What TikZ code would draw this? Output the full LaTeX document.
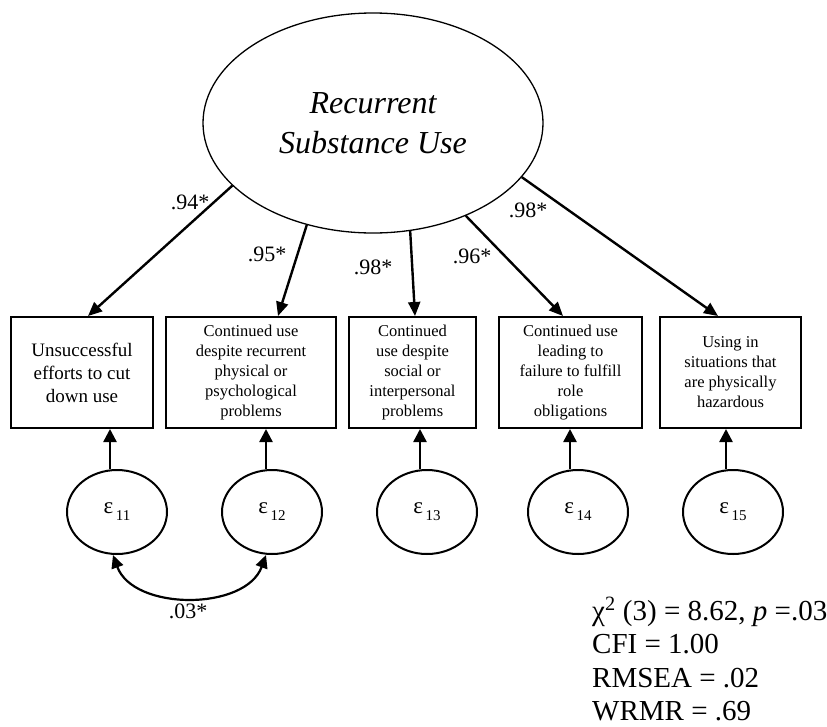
\documentclass[tikz,border=0pt]{standalone}
\usepackage{fontspec}
\setmainfont{Liberation Serif}
\usetikzlibrary{arrows.meta,shapes.geometric}

\begin{document}
\begin{tikzpicture}[x=1pt, y=1pt,
	factor/.style={ellipse, draw, line width=1.3pt, minimum width=340pt, minimum height=220pt,
		inner sep=0pt, align=center, font=\fontsize{32}{40}\selectfont\itshape},
	item/.style={rectangle, draw, line width=2pt, minimum height=111pt, inner sep=2pt,
		align=center, font=\fontsize{16.5}{20}\selectfont},
	err/.style={ellipse, draw, line width=2pt, minimum width=100pt, minimum height=84pt, inner sep=0pt},
	load/.style={line width=2.4pt, -{Triangle[length=14pt, width=12pt]}},
	resid/.style={line width=2.4pt, -{Triangle[length=13pt, width=13pt]}},
	cov/.style={line width=2.2pt, {Triangle[length=13pt, width=12pt]}-{Triangle[length=13pt, width=12pt]}},
	coef/.style={inner sep=0pt, font=\fontsize{22}{22}\selectfont},
	fitstat/.style={anchor=base west, inner sep=0pt, font=\fontsize{29}{33}\selectfont}]

\path [use as bounding box] (0,0) rectangle (827,-726);

% FACTOR
\node [factor] (rsu) at (373,-123) {Recurrent\\Substance Use};

% ITEMS
\node [item, minimum width=142pt, font=\fontsize{19}{23}\selectfont] (y1) at (82,-372.5)
	{Unsuccessful\\efforts to cut\\down use};
\node [item, minimum width=170pt] (y2) at (251,-372.5)
	{Continued use\\despite recurrent\\physical or\\psychological\\problems};
\node [item, minimum width=127pt] (y3) at (412.5,-372.5)
	{Continued\\use despite\\social or\\interpersonal\\problems};
\node [item, minimum width=143pt] (y4) at (570.5,-372.5)
	{Continued use\\leading to\\failure to fulfill\\role\\obligations};
\node [item, minimum width=141pt] (y5) at (730.5,-372.5)
	{Using in\\situations that\\are physically\\hazardous};

% LOADINGS
\draw [load] (rsu.204.7) -- ([xshift=6pt]y1.north);
\draw [load] (rsu.237.3) -- ([xshift=27pt]y2.north);
\draw [load] (rsu.289.5) -- ([xshift=2.5pt]y3.north);
\draw [load] (rsu.315.6) -- ([xshift=-7.5pt]y4.north);
\draw [load] (rsu.340) -- ([xshift=-12.5pt]y5.north);

\node [coef] (c1) at (190,-202) {.94*};
\node [coef] (c2) at (267,-254) {.95*};
\node [coef] (c3) at (373,-267) {.98*};
\node [coef] (c4) at (472,-256) {.96*};
\node [coef] (c5) at (528,-210) {.98*};

% ERRORS
\foreach \i/\x in {11/117, 12/272, 13/427, 14/578, 15/733}
	\node [err] (e\i) at (\x,-512)
		{{\fontsize{23}{23}\selectfont ε} \raisebox{-7pt}{\fontsize{15}{15}\selectfont \i}};

\draw [resid] ([xshift=-7pt]e11.north) -- ([xshift=-7pt]e11.north |- y1.south);
\draw [resid] ([xshift=-6pt]e12.north) -- ([xshift=-6pt]e12.north |- y2.south);
\draw [resid] ([xshift=-7pt]e13.north) -- ([xshift=-7pt]e13.north |- y3.south);
\draw [resid] ([xshift=-8pt]e14.north) -- ([xshift=-8pt]e14.north |- y4.south);
\draw [resid] ([xshift=-7pt]e15.north) -- ([xshift=-7pt]e15.north |- y5.south);

% COVARIANCE
\draw [cov] ([xshift=-4pt]e11.south) to[out=-70, in=-110] ([xshift=-6pt]e12.south);
\node [coef] (c6) at (188,-611) {.03*};

% FIT
\node [fitstat] (chi) at (592,-620) {χ\textsuperscript{2} (3) = 8.62, \textit{p} =.03};
\node [fitstat] (cfi) at (592,-653) {CFI = 1.00};
\node [fitstat] (rmsea) at (592,-687) {RMSEA = .02};
\node [fitstat] (wrmr) at (592,-720) {WRMR = .69};

\end{tikzpicture}
\end{document}
